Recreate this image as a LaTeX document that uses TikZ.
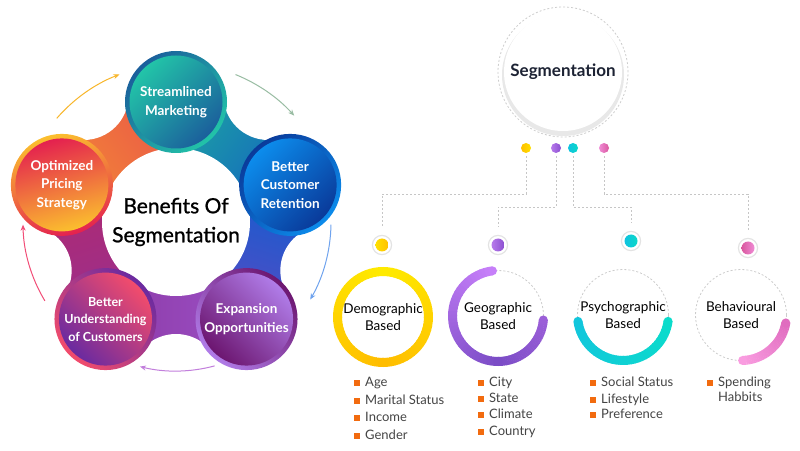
\documentclass[tikz,border=0pt]{standalone}
\usepackage{fontspec}
\setmainfont{Lato}
\newfontfamily\medfont{Lato}[FakeBold=1]
\usetikzlibrary{arrows.meta,calc}
% ball colours (A = light side, B = dark side)
\definecolor{sA}{HTML}{22C4A8}\definecolor{sB}{HTML}{1B5F9C}
\definecolor{rA}{HTML}{0C8CEC}\definecolor{rB}{HTML}{0A3A9A}
\definecolor{eA}{HTML}{B07CE8}\definecolor{eB}{HTML}{6C1670}
\definecolor{uA}{HTML}{F24C6C}\definecolor{uB}{HTML}{6A2AA0}
\definecolor{oA}{HTML}{E4214F}\definecolor{oB}{HTML}{FBBF2E}
% band colours
\definecolor{b1}{HTML}{1DAA9F}\definecolor{b2}{HTML}{1462C2}
\definecolor{b3}{HTML}{0D5FCF}\definecolor{b4}{HTML}{5A4AC4}
\definecolor{b5}{HTML}{9C50C6}\definecolor{b6}{HTML}{8C3AA6}
\definecolor{b7}{HTML}{9A308F}\definecolor{b8}{HTML}{B0296F}
\definecolor{b9}{HTML}{F38A35}\definecolor{b10}{HTML}{E9524A}
% arrows
\definecolor{arY}{HTML}{F8B62A}\definecolor{arG}{HTML}{98BCA2}
\definecolor{arB}{HTML}{6FA3EE}\definecolor{arP}{HTML}{C27FDC}
\definecolor{arR}{HTML}{F24D77}
% right side
\definecolor{navy}{HTML}{1C2233}
\definecolor{yA}{HTML}{FFEA00}\definecolor{yB}{HTML}{FFBD00}
\definecolor{gA}{HTML}{C67FF9}\definecolor{gB}{HTML}{7B4CC6}\definecolor{gC}{HTML}{9B5FD8}
\definecolor{tA}{HTML}{12C6DC}\definecolor{tB}{HTML}{0BDCCB}
\definecolor{pA}{HTML}{F99CE0}\definecolor{pB}{HTML}{E06CBF}
\definecolor{dY1}{HTML}{FFE000}\definecolor{dY2}{HTML}{FFC000}
\definecolor{dP1}{HTML}{B77AEB}\definecolor{dP2}{HTML}{8B4FD0}
\definecolor{dT1}{HTML}{10C2E0}\definecolor{dT2}{HTML}{0AD8C8}
\definecolor{dK1}{HTML}{D9589E}\definecolor{dK2}{HTML}{F08CD6}
\definecolor{bulor}{HTML}{F26B0F}
\definecolor{itemgray}{HTML}{444444}

\newcommand\bandseg[3]{%
  \shade[top color=#2,bottom color=#3,shading angle=#1]
    ($(C)+(#1-49.4:92.2)$) -- ($(C)+(#1-27.9:149.4)$) --
    ($(C)+(#1+27.9:149.4)$) -- ($(C)+(#1+49.4:92.2)$) -- cycle;}
\newcommand\gradring[6]{% center, radius, start, end, colA, colB
  \foreach \i in {0,...,35}{%
    \pgfmathsetmacro\aa{#3+(#4-#3)*\i/36}%
    \pgfmathsetmacro\bb{#3+(#4-#3)*(\i+1.2)/36}%
    \pgfmathtruncatemacro\pp{100*\i/35}%
    \draw[line width=9, #6!\pp!#5] ($(#1)+(\aa:#2)$) arc[start angle=\aa, end angle=\bb, radius=#2];
  }%
  \fill[#5] ($(#1)+(#3:#2)$) circle[radius=4.5];
  \fill[#6] ($(#1)+(#4:#2)$) circle[radius=4.5];}

\tikzset{
  ball/.style={circle, minimum size=93, inner sep=0, align=center, text=white,
    font=\fontsize{13.5}{18.5}\selectfont\bfseries},
  arr/.style={line width=1, -{Stealth[length=6pt,width=5pt]}},
  conn/.style={draw=gray!45, line width=0.9, dash pattern=on 2pt off 2pt},
  ringlabel/.style={circle, minimum size=90, inner sep=0, align=center,
    font=\fontsize{13.5}{17.5}\selectfont},
  dashring/.style={draw=gray!40, line width=0.8, dash pattern=on 2pt off 2pt},
  bigdot/.style={circle, minimum size=10, inner sep=0},
  smalldot/.style={circle, minimum size=13, inner sep=0},
  bulletsq/.style={fill=bulor, minimum size=5.5, inner sep=0, xshift=-5},
  itemtext/.style={anchor=west, inner sep=0, text height=9, text depth=2.5,
    font=\fontsize{13}{15}\selectfont, text=itemgray},
  item/.style={itemtext, label={[bulletsq]left:{}}},
}

\begin{document}
\begin{tikzpicture}[x=1pt,y=1pt]
\useasboundingbox (0,0) rectangle (800,450);
\coordinate (C) at (176,228);

% ---- connecting band ----
\bandseg{54}{b1}{b2}
\bandseg{-18}{b3}{b4}
\bandseg{-90}{b5}{b6}
\bandseg{-162}{b7}{b8}
\bandseg{126}{b9}{b10}
\foreach \m in {54,-18,-90,-162,126}{\fill[white] ($(C)+(\m:157)$) circle[radius=45];}

\node[circle, fill=white, minimum size=148, inner sep=0, align=center,
  font={\medfont\fontsize{21}{29}\selectfont}] (ctr) at (C) {Benefits Of\\Segmentation};

% ---- balls ----
\coordinate (pS) at ($(C)+(90:120)$);
\coordinate (pR) at ($(C)+(18:120)$);
\coordinate (pE) at ($(C)+(-54:120)$);
\coordinate (pU) at ($(C)+(-126:120)$);
\coordinate (pO) at ($(C)+(162:120)$);
\shade[top color=sB, bottom color=sA, shading angle=45] (pS) circle[radius=51];
\shade[top color=rB, bottom color=rA, shading angle=45] (pR) circle[radius=51];
\shade[top color=eB, bottom color=eA, shading angle=-45] (pE) circle[radius=51];
\shade[top color=uB, bottom color=uA, shading angle=-45] (pU) circle[radius=51];
\shade[top color=oB, bottom color=oA, shading angle=15] (pO) circle[radius=51];
\node[ball, top color=sA, bottom color=sB, shading angle=45] (sm) at (pS) {Streamlined\\Marketing};
\node[ball, top color=rA, bottom color=rB, shading angle=45] (cr) at (pR) {Better\\Customer\\Retention};
\node[ball, top color=eA, bottom color=eB, shading angle=-45] (ex) at (pE) {Expansion\\Opportunities};
\node[ball, top color=uA, bottom color=uB, shading angle=-45,
  font=\fontsize{12.5}{17.5}\selectfont\bfseries] (uc) at (pU) {Better\\Understanding\\of Customers};
\node[ball, top color=oA, bottom color=oB, shading angle=15] (op) at (pO) {Optimized\\Pricing\\Strategy};

% ---- cycle arrows ----
\draw[arr, arY] ($(C)+(139:158)$) arc[start angle=139, end angle=111, radius=158];
\draw[arr, arG] ($(C)+(68:159)$) arc[start angle=68, end angle=42, radius=159];
\draw[arr, arB] ($(C)+(-1:155)$) arc[start angle=-1, end angle=-30, radius=155];
\draw[arr, arP] ($(C)+(-75:149)$) arc[start angle=-75, end angle=-104, radius=149];
\draw[arr, arR] ($(C)+(-149:153)$) arc[start angle=-149, end angle=-179, radius=153];

% ---- segmentation hub ----
\fill[black!9] (563,375) circle[radius=61];
\node[circle, fill=white, minimum size=118, inner sep=0, text=navy,
  font=\fontsize{17}{20}\selectfont\bfseries] (seg) at (563,378) {Segmentation};
\draw[dashring] (seg.center) circle[radius=65];

\node[bigdot, left color=dY2, right color=dY1] (d1) at (526,302) {};
\node[bigdot, left color=dP1, right color=dP2] (d2) at (556,302) {};
\node[bigdot, left color=dT1, right color=dT2] (d3) at (573,302) {};
\node[bigdot, left color=dK2, right color=dK1] (d4) at (604,302) {};

\node[smalldot, left color=dY1, right color=dY2] (s1) at (382,205) {};
\node[smalldot, left color=dP1, right color=dP2] (s2) at (498,205) {};
\node[smalldot, left color=dT1, right color=dT2] (s3) at (631,209) {};
\node[smalldot, left color=dK1, right color=dK2] (s4) at (748,202) {};
\foreach \s in {s1,s2,s3,s4}{\draw[gray!22, line width=1.2] (\s.center) circle[radius=9.6];}

\coordinate (hA) at (0,256);
\coordinate (hB) at (0,243);
\draw[conn] ([yshift=-3]d1.south) -- (d1 |- hA) -| ([yshift=11]s1.north);
\draw[conn] ([yshift=-3]d2.south) -- (d2 |- hB) -| ([yshift=11]s2.north);
\draw[conn] ([yshift=-3]d3.south) -- (d3 |- hB) -| ([yshift=11]s3.north);
\draw[conn] ([yshift=-3]d4.south) -- (d4 |- hA) -| ([yshift=11]s4.north);

% ---- segment rings ----
\node[ringlabel] (demo) at (383,133) {Demographic\\Based};
\node[ringlabel] (geo) at (498,134) {Geographic\\Based};
\node[ringlabel] (psy) at (623,135) {Psychographic\\Based};
\node[ringlabel] (beh) at (741,135) {Behavioural\\Based};

\gradring{demo.center}{45.5}{90}{270}{yA}{yB}
\gradring{demo.center}{45.5}{90}{-90}{yA}{yB}

\draw[dashring] (geo.center) circle[radius=45.5];
\gradring{geo.center}{45.5}{97}{270}{gA}{gB}
\gradring{geo.center}{45.5}{270}{355}{gB}{gC}

\draw[dashring] (psy.center) circle[radius=45.5];
\gradring{psy.center}{45.5}{188}{352}{tA}{tB}

\draw[dashring] (beh.center) circle[radius=45.5];
\gradring{beh.center}{45.5}{272}{350}{pA}{pB}

% ---- lists ----
\node[item] (dm1) at (365,67) {Age};
\node[item] (dm2) at (365,49) {Marital Status};
\node[item] (dm3) at (365,32) {Income};
\node[item] (dm4) at (365,14) {Gender};

\node[item] (ge1) at (489,67) {City};
\node[item] (ge2) at (489,51) {State};
\node[item] (ge3) at (489,35) {Climate};
\node[item] (ge4) at (489,18) {Country};

\node[item] (ps1) at (601,67) {Social Status};
\node[item] (ps2) at (601,50) {Lifestyle};
\node[item] (ps3) at (601,35) {Preference};

\node[item] (be1) at (718,67) {Spending};
\node[itemtext] (be2) at (718,52) {Habbits};
\end{tikzpicture}
\end{document}
